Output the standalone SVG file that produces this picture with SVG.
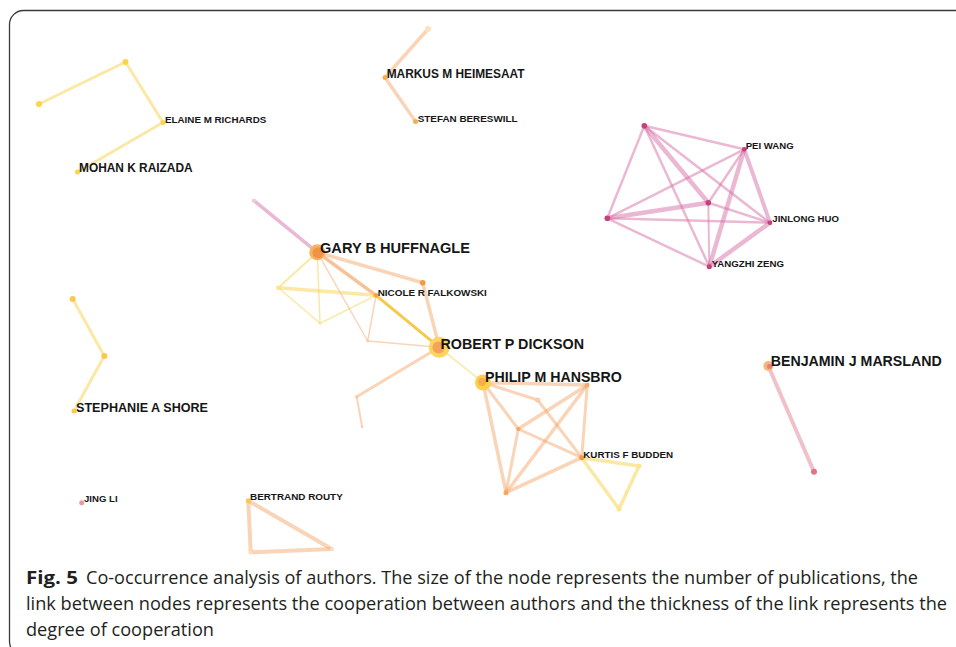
<svg xmlns="http://www.w3.org/2000/svg" width="956" height="647" viewBox="0 0 956 647">
<style>
.lbl{font-family:"Liberation Sans",Arial,sans-serif;font-weight:bold;fill:#161616}
.e{fill:none;stroke-linecap:round}
.ey{stroke:#f8d24a;stroke-opacity:.5}
.eg{stroke:#f2b70f;stroke-opacity:.75}
.eo{stroke:#f4a060;stroke-opacity:.45}
.eo2{stroke:#f19a4e;stroke-opacity:.6}
.ep{stroke:#d56aa4;stroke-opacity:.48}
.er{stroke:#e38e9a;stroke-opacity:.55}
.cap{font-family:"Open Sans","Liberation Sans",sans-serif;font-size:18px;fill:#231f20}
</style>
<rect x="9.5" y="10.5" width="980" height="645" rx="14" fill="#fff" stroke="#3a3a3a" stroke-width="1.3"/>
<g id="edges">
  <line class="e ey" stroke-width="3" x1="39" y1="104" x2="125.5" y2="62"/>
  <line class="e ey" stroke-width="3" x1="125.5" y1="62" x2="163" y2="122.5"/>
  <line class="e ey" stroke-width="3" x1="163" y1="122.5" x2="77.5" y2="172"/>
  <line class="e eo" stroke-width="3.5" x1="428" y1="29" x2="385" y2="77.5"/>
  <line class="e eo" stroke-width="3.5" x1="385" y1="77.5" x2="415.5" y2="121.5"/>
  <line class="e ep" stroke-width="2.5" x1="644.3" y1="125.7" x2="744.3" y2="149.3"/>
  <line class="e ep" stroke-width="2.5" x1="644.3" y1="125.7" x2="607.3" y2="218.3"/>
  <line class="e ep" stroke-width="4.5" x1="644.3" y1="125.7" x2="708.3" y2="202.7"/>
  <line class="e ep" stroke-width="2.5" x1="644.3" y1="125.7" x2="770" y2="222.7"/>
  <line class="e ep" stroke-width="2.5" x1="644.3" y1="125.7" x2="709.3" y2="266.7"/>
  <line class="e ep" stroke-width="2.5" x1="744.3" y1="149.3" x2="607.3" y2="218.3"/>
  <line class="e ep" stroke-width="2.5" x1="744.3" y1="149.3" x2="708.3" y2="202.7"/>
  <line class="e ep" stroke-width="4" x1="744.3" y1="149.3" x2="770" y2="222.7"/>
  <line class="e ep" stroke-width="4.5" x1="744.3" y1="149.3" x2="709.3" y2="266.7"/>
  <line class="e ep" stroke-width="4.5" x1="708.3" y1="202.7" x2="607.3" y2="218.3"/>
  <line class="e ep" stroke-width="2.5" x1="708.3" y1="202.7" x2="770" y2="222.7"/>
  <line class="e ep" stroke-width="2" x1="708.3" y1="202.7" x2="709.3" y2="266.7"/>
  <line class="e ep" stroke-width="2.5" x1="607.3" y1="218.3" x2="770" y2="222.7"/>
  <line class="e ep" stroke-width="2.5" x1="607.3" y1="218.3" x2="709.3" y2="266.7"/>
  <line class="e ep" stroke-width="4.5" x1="770" y1="222.7" x2="709.3" y2="266.7"/>
  <line class="e ep" stroke-width="3.5" x1="254" y1="200.7" x2="317.3" y2="252.3"/>
  <line class="e eo" stroke-width="3.5" x1="317.3" y1="252.3" x2="422.7" y2="282.7"/>
  <line class="e eo" stroke-width="3.5" x1="422.7" y1="282.7" x2="439.3" y2="347.3"/>
  <line class="e eo2" stroke-width="3.5" x1="317.3" y1="252.3" x2="376" y2="295.3"/>
  <line class="e ey" stroke-width="2" x1="317.3" y1="252.3" x2="278.3" y2="287.7"/>
  <line class="e ey" stroke-width="1.5" x1="317.3" y1="252.3" x2="320" y2="323.3"/>
  <line class="e eo" stroke-width="1.5" x1="317.3" y1="252.3" x2="367.7" y2="341"/>
  <line class="e ey" stroke-width="3.5" x1="278.3" y1="287.7" x2="376" y2="295.3"/>
  <line class="e ey" stroke-width="1.5" x1="278.3" y1="287.7" x2="320" y2="323.3"/>
  <line class="e ey" stroke-width="1.5" x1="320" y1="323.3" x2="376" y2="295.3"/>
  <line class="e eo" stroke-width="1.5" x1="376" y1="295.3" x2="367.7" y2="341"/>
  <line class="e eo" stroke-width="1.5" x1="367.7" y1="341" x2="439.3" y2="347.3"/>
  <line class="e eg" stroke-width="3" x1="376" y1="295.3" x2="439.3" y2="347.3"/>
  <line class="e eo" stroke-width="3" x1="439.3" y1="347.3" x2="356.7" y2="396.7"/>
  <line class="e eo" stroke-width="2" x1="356.7" y1="396.7" x2="362" y2="426.7"/>
  <line class="e ey" stroke-width="1.5" x1="439.3" y1="347.3" x2="483" y2="382.5"/>
  <line class="e eo" stroke-width="3.5" x1="483" y1="382.5" x2="587.3" y2="385"/>
  <line class="e eo" stroke-width="3" x1="483" y1="382.5" x2="537.7" y2="400"/>
  <line class="e eo" stroke-width="3" x1="483" y1="382.5" x2="518.3" y2="429"/>
  <line class="e eo" stroke-width="3.5" x1="483" y1="382.5" x2="506" y2="492.7"/>
  <line class="e eo" stroke-width="3" x1="537.7" y1="400" x2="581.7" y2="457.7"/>
  <line class="e eo" stroke-width="3" x1="518.3" y1="429" x2="581.7" y2="457.7"/>
  <line class="e eo" stroke-width="3.5" x1="518.3" y1="429" x2="587.3" y2="385"/>
  <line class="e eo" stroke-width="3" x1="518.3" y1="429" x2="506" y2="492.7"/>
  <line class="e eo" stroke-width="3.5" x1="506" y1="492.7" x2="587.3" y2="385"/>
  <line class="e eo" stroke-width="3.5" x1="506" y1="492.7" x2="581.7" y2="457.7"/>
  <line class="e eo" stroke-width="3" x1="587.3" y1="385" x2="581.7" y2="457.7"/>
  <line class="e ey" stroke-width="3.5" x1="581.7" y1="457.7" x2="639" y2="466"/>
  <line class="e ey" stroke-width="3.5" x1="639" y1="466" x2="619" y2="509"/>
  <line class="e ey" stroke-width="3.5" x1="619" y1="509" x2="581.7" y2="457.7"/>
  <line class="e er" stroke-width="4" x1="768.3" y1="366" x2="814" y2="471.7"/>
  <line class="e ey" stroke-width="3" x1="72.7" y1="299" x2="104.3" y2="356"/>
  <line class="e ey" stroke-width="3" x1="104.3" y1="356" x2="74" y2="411"/>
  <line class="e eo" stroke-width="4" x1="248.3" y1="500.7" x2="250.7" y2="552.3"/>
  <line class="e eo" stroke-width="4" x1="250.7" y1="552.3" x2="331.7" y2="549"/>
  <line class="e eo" stroke-width="4" x1="331.7" y1="549" x2="248.3" y2="500.7"/>
</g>
<g id="node-tl1"><circle cx="39" cy="104" r="3" fill="#fbd547"/></g>
<g id="node-tl2"><circle cx="125.5" cy="62" r="3" fill="#fbd547"/></g>
<g id="node-elaine"><circle cx="163" cy="122.5" r="2.5" fill="#fbd547"/><text class="lbl" x="165" y="122.5" font-size="9.8">ELAINE M RICHARDS</text></g>
<g id="node-mohan"><circle cx="77.5" cy="172" r="2.5" fill="#fbd547"/><text class="lbl" x="79" y="172.3" font-size="11.9">MOHAN K RAIZADA</text></g>
<g id="node-mk0"><circle cx="428" cy="29" r="3" fill="#fde3bd"/></g>
<g id="node-markus"><circle cx="385" cy="77.5" r="2.5" fill="#f5b04e"/><text class="lbl" x="386.7" y="78.3" font-size="11.9">MARKUS M HEIMESAAT</text></g>
<g id="node-stefan"><circle cx="415.5" cy="121.5" r="2.5" fill="#f5b04e"/><text class="lbl" x="417.7" y="121.5" font-size="9.9">STEFAN BERESWILL</text></g>
<g id="node-p1"><circle cx="644.3" cy="125.7" r="2.8" fill="#c63f7e"/></g>
<g id="node-pei"><circle cx="744.3" cy="149.3" r="2.3" fill="#c63f7e"/><text class="lbl" x="745.7" y="148.5" font-size="9.6">PEI WANG</text></g>
<g id="node-pc"><circle cx="708.3" cy="202.7" r="2.8" fill="#c63f7e"/></g>
<g id="node-pl"><circle cx="607.3" cy="218.3" r="2.8" fill="#c63f7e"/></g>
<g id="node-jinlong"><circle cx="770" cy="222.7" r="2.3" fill="#c63f7e"/><text class="lbl" x="772.3" y="222" font-size="9.6">JINLONG HUO</text></g>
<g id="node-yangzhi"><circle cx="709.3" cy="266.7" r="2.5" fill="#c63f7e"/><text class="lbl" x="711.7" y="267" font-size="9.7">YANGZHI ZENG</text></g>
<g id="node-gtail"><circle cx="254" cy="200.7" r="2" fill="#f0cce0"/></g>
<g id="node-gary"><circle cx="317.3" cy="252.3" r="8" fill="#f7b35f"/><circle cx="318" cy="252.8" r="5.5" fill="#ef9446"/><text class="lbl" x="320" y="252.5" font-size="14.6">GARY B HUFFNAGLE</text></g>
<g id="node-gne"><circle cx="422.7" cy="282.7" r="2.8" fill="#f39a3e"/></g>
<g id="node-gl"><circle cx="278.3" cy="287.7" r="2.2" fill="#fde48c"/></g>
<g id="node-nicole"><circle cx="376" cy="295.3" r="2.4" fill="#f5a440"/><text class="lbl" x="377.7" y="296.2" font-size="9.9">NICOLE R FALKOWSKI</text></g>
<g id="node-gv"><circle cx="320" cy="323.3" r="1.2" fill="#fde48c"/></g>
<g id="node-gm"><circle cx="367.7" cy="341" r="1.2" fill="#f8c8a0"/></g>
<g id="node-robert"><circle cx="439.3" cy="347.3" r="10.5" fill="#fcd45e"/><circle cx="438.5" cy="347.5" r="6" fill="#f4a35a"/><text class="lbl" x="440.5" y="348.5" font-size="14.3">ROBERT P DICKSON</text></g>
<g id="node-rs1"><circle cx="356.7" cy="396.7" r="1.3" fill="#f8c8a0"/></g>
<g id="node-rs2"><circle cx="362" cy="426.7" r="1.2" fill="#f8c8a0"/></g>
<g id="node-philip"><circle cx="483" cy="382.5" r="8" fill="#fcd04c"/><circle cx="482" cy="382" r="4" fill="#f6ae4a"/><text class="lbl" x="485" y="382.2" font-size="14.2">PHILIP M HANSBRO</text></g>
<g id="node-ptr"><circle cx="587.3" cy="385" r="2.2" fill="#f6a860"/></g>
<g id="node-pn1"><circle cx="537.7" cy="400" r="2" fill="#fbd9bd" stroke="#f6b280" stroke-width="0.8"/></g>
<g id="node-pn2"><circle cx="518.3" cy="429" r="2" fill="#f6a860"/></g>
<g id="node-kurtis"><circle cx="581.7" cy="457.7" r="2.5" fill="#f39a3e"/><text class="lbl" x="583.3" y="458" font-size="9.8">KURTIS F BUDDEN</text></g>
<g id="node-pbl"><circle cx="506" cy="492.7" r="2.5" fill="#f6a860"/></g>
<g id="node-kyr"><circle cx="639" cy="466" r="2.5" fill="#fde68f"/></g>
<g id="node-kyb"><circle cx="619" cy="509" r="2.5" fill="#fde68f"/></g>
<g id="node-benjamin"><circle cx="768.3" cy="366" r="5" fill="#f8b77a"/><circle cx="769.5" cy="366.5" r="2.5" fill="#e07f86"/><text class="lbl" x="770.7" y="365.5" font-size="14.2">BENJAMIN J MARSLAND</text></g>
<g id="node-bend"><circle cx="814" cy="471.7" r="3" fill="#e07585"/></g>
<g id="node-st1"><circle cx="72.7" cy="299" r="3" fill="#fcc84a"/></g>
<g id="node-st2"><circle cx="104.3" cy="356" r="3" fill="#fcc84a"/></g>
<g id="node-stephanie"><circle cx="74" cy="411" r="2.5" fill="#fcc84a"/><text class="lbl" x="76" y="411.7" font-size="12.6">STEPHANIE A SHORE</text></g>
<g id="node-jingli"><circle cx="81.7" cy="502.7" r="2.5" fill="#ec9a98"/><text class="lbl" x="84" y="502" font-size="9.6">JING LI</text></g>
<g id="node-bertrand"><circle cx="248.3" cy="500.7" r="2.5" fill="#f9c94e"/><text class="lbl" x="250" y="500.3" font-size="9.9">BERTRAND ROUTY</text></g>
<g id="node-bt2"><circle cx="250.7" cy="552.3" r="2" fill="#fde0c0"/></g>
<g id="node-bt3"><circle cx="331.7" cy="549" r="2" fill="#fde0c0"/></g>
<g id="caption">
  <text class="cap" x="26" y="584" font-weight="bold" textLength="52" lengthAdjust="spacingAndGlyphs">Fig. 5</text>
  <text class="cap" x="86" y="584" textLength="832" lengthAdjust="spacingAndGlyphs">Co-occurrence analysis of authors. The size of the node represents the number of publications, the</text>
  <text class="cap" x="26" y="610" textLength="921" lengthAdjust="spacingAndGlyphs">link between nodes represents the cooperation between authors and the thickness of the link represents the</text>
  <text class="cap" x="26" y="636" textLength="188" lengthAdjust="spacingAndGlyphs">degree of cooperation</text>
</g>
</svg>
